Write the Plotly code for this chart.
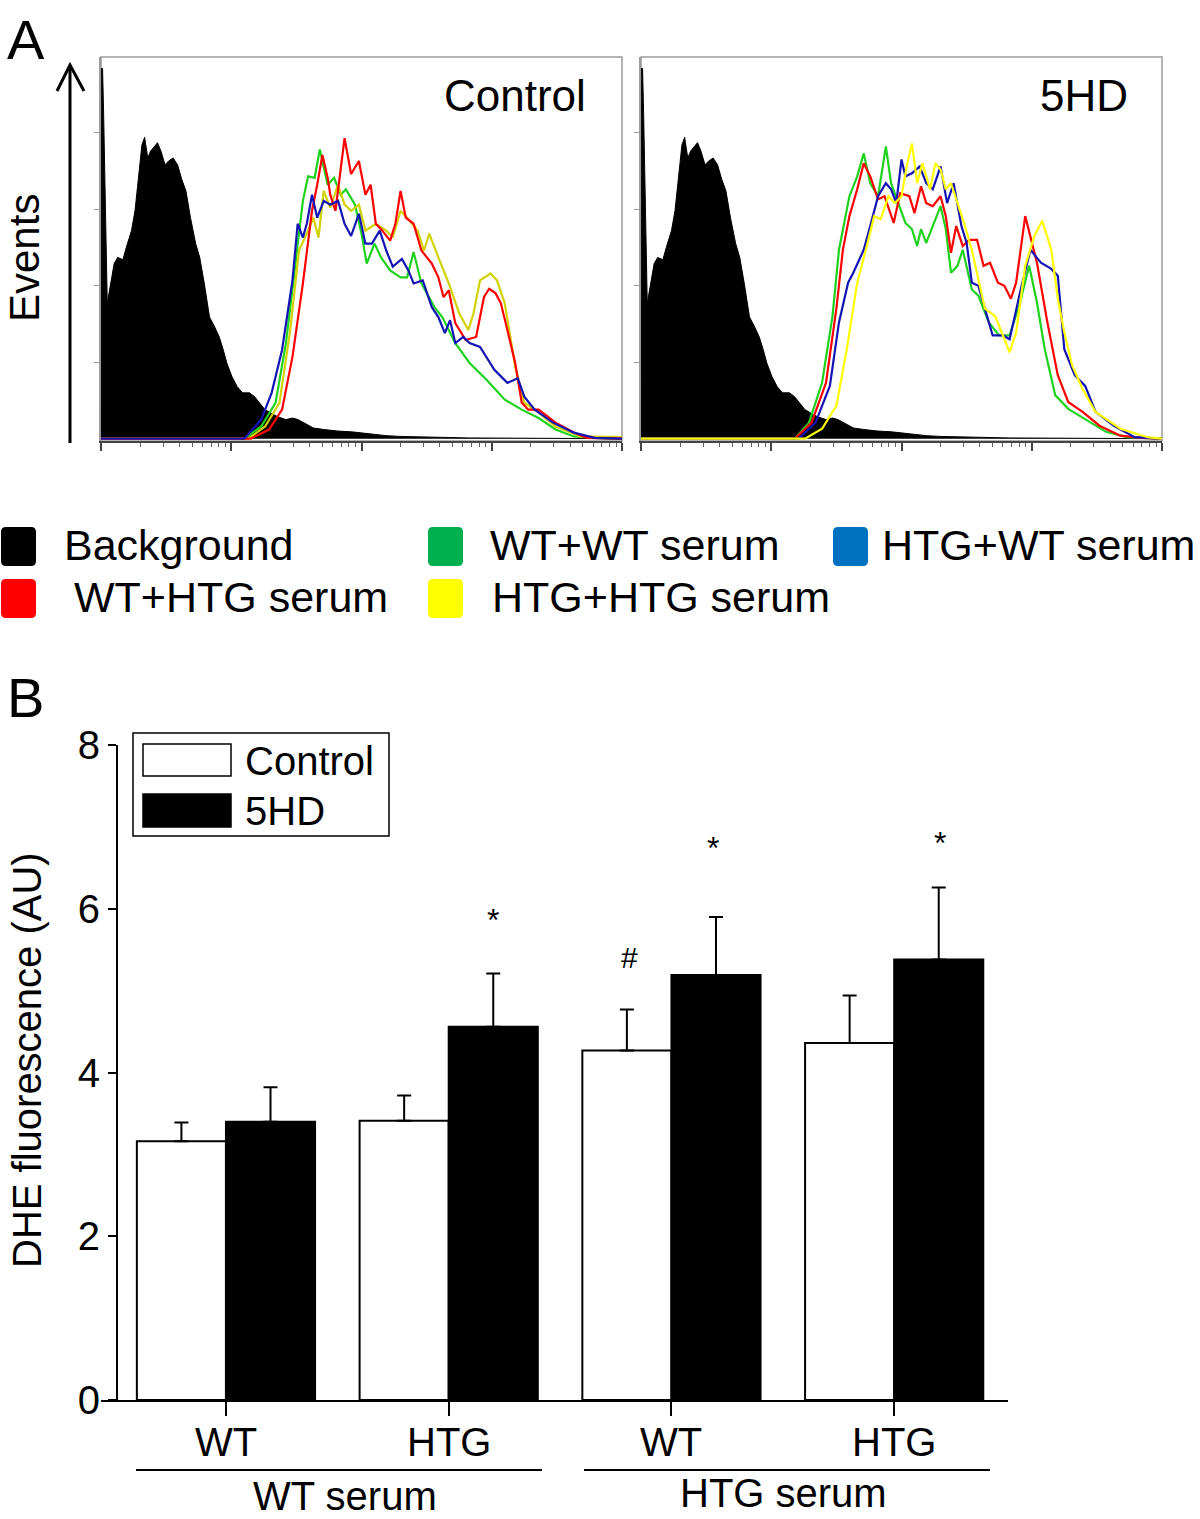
import numpy as np
import plotly.graph_objects as go

W, H = 1200, 1519
FONT = "Liberation Sans, Arial, Helvetica, sans-serif"

# ---------------- Panel A data (x in log decades, y in events units) ----------------
bg_x = [0, 0.003, 0.012, 0.02, 0.048, 0.101, 0.128, 0.168, 0.194, 0.234, 0.261, 0.287, 0.314, 0.335, 0.359,
        0.381, 0.413, 0.434, 0.460, 0.492, 0.519, 0.554, 0.588, 0.620, 0.652, 0.687, 0.727, 0.758, 0.793, 0.833,
        0.873, 0.908, 0.939, 0.966, 1.006, 1.046, 1.086, 1.139, 1.179, 1.219, 1.259, 1.299, 1.352, 1.419, 1.472,
        1.512, 1.552, 1.631, 1.711, 1.818, 1.924, 2.031, 2.190, 2.297, 2.563, 2.829, 4.0]
bg_y = [0, 4.84, 4.84, 4.26, 1.77, 2.29, 2.37, 2.34, 2.50, 2.72, 2.98, 3.41, 3.84, 3.94, 3.67,
        3.76, 3.82, 3.87, 3.76, 3.58, 3.63, 3.67, 3.58, 3.39, 3.24, 2.89, 2.55, 2.37, 2.03, 1.59,
        1.46, 1.33, 1.16, 0.99, 0.81, 0.68, 0.60, 0.60, 0.55, 0.47, 0.38, 0.34, 0.29, 0.25, 0.27,
        0.25, 0.21, 0.14, 0.12, 0.10, 0.09, 0.07, 0.04, 0.03, 0.02, 0.01, 0]

ctrl_green_x = [0, 1.10, 1.23, 1.34, 1.42, 1.50, 1.55, 1.59, 1.64, 1.68, 1.74, 1.79, 1.84, 1.88, 1.95, 2.00, 2.04,
                2.10, 2.15, 2.22, 2.30, 2.35, 2.40, 2.46, 2.56, 2.62, 2.72, 2.83, 2.96, 3.10, 3.23, 3.36, 3.49,
                3.63, 3.89, 4.0]
ctrl_green_y = [0, 0, 0.16, 0.47, 1.25, 2.37, 3.11, 3.43, 3.41, 3.78, 3.32, 3.41, 3.19, 3.26, 3.06, 2.68, 2.29,
                2.55, 2.37, 2.20, 2.11, 2.11, 2.44, 2.03, 1.72, 1.59, 1.25, 0.99, 0.77, 0.51, 0.38, 0.27, 0.12,
                0.03, 0, 0]

ctrl_red_x = [0, 1.15, 1.29, 1.39, 1.47, 1.55, 1.62, 1.66, 1.70, 1.74, 1.76, 1.80, 1.87, 1.92, 1.98, 2.03, 2.07,
              2.11, 2.16, 2.22, 2.26, 2.30, 2.34, 2.40, 2.46, 2.54, 2.59, 2.63, 2.67, 2.72, 2.80, 2.88, 2.94,
              2.98, 3.03, 3.07, 3.12, 3.18, 3.23, 3.28, 3.36, 3.49, 3.63, 3.73, 4.0]
ctrl_red_y = [0, 0, 0.12, 0.38, 1.07, 2.03, 2.98, 3.32, 3.71, 3.41, 3.19, 2.98, 3.93, 3.46, 3.63, 3.19, 3.32,
              2.81, 2.72, 2.59, 2.81, 3.24, 2.89, 2.81, 2.46, 2.29, 2.11, 1.85, 1.94, 1.51, 1.29, 1.33, 1.85,
              1.96, 1.90, 1.77, 1.42, 0.99, 0.47, 0.38, 0.38, 0.21, 0.08, 0.01, 0]

ctrl_yellow_x = [0, 1.13, 1.26, 1.37, 1.45, 1.52, 1.59, 1.63, 1.67, 1.71, 1.76, 1.82, 1.87, 1.92, 1.98, 2.03,
                 2.11, 2.19, 2.24, 2.30, 2.35, 2.43, 2.48, 2.52, 2.59, 2.67, 2.75, 2.82, 2.86, 2.91, 2.99, 3.04,
                 3.10, 3.18, 3.25, 3.36, 3.49, 3.68, 4.0]
ctrl_yellow_y = [0, 0, 0.16, 0.47, 1.38, 2.46, 2.72, 2.89, 2.63, 3.24, 3.02, 3.32, 3.06, 2.98, 3.06, 2.72,
                 2.81, 2.72, 2.63, 2.98, 2.89, 2.72, 2.46, 2.68, 2.37, 2.03, 1.64, 1.42, 1.64, 2.07, 2.16, 2.07,
                 1.77, 0.94, 0.47, 0.34, 0.16, 0.03, 0.02]

ctrl_blue_x = [0, 1.10, 1.23, 1.31, 1.39, 1.47, 1.51, 1.55, 1.58, 1.62, 1.66, 1.71, 1.76, 1.82, 1.87, 1.92, 1.98,
               2.03, 2.08, 2.14, 2.19, 2.24, 2.31, 2.36, 2.40, 2.47, 2.54, 2.59, 2.64, 2.68, 2.72, 2.78, 2.83,
               2.91, 3.02, 3.12, 3.20, 3.25, 3.33, 3.47, 3.63, 3.79, 4.0]
ctrl_blue_y = [0, 0, 0.25, 0.60, 1.16, 2.07, 2.81, 2.63, 2.81, 3.19, 2.89, 3.11, 3.06, 3.11, 2.81, 2.65, 2.94,
               2.55, 2.55, 2.72, 2.46, 2.25, 2.35, 2.20, 2.03, 2.07, 1.72, 1.59, 1.38, 1.55, 1.25, 1.33, 1.25,
               1.20, 0.90, 0.73, 0.79, 0.55, 0.38, 0.21, 0.08, 0.01, 0]

hd_green_x = [0, 1.18, 1.29, 1.39, 1.47, 1.52, 1.60, 1.66, 1.71, 1.76, 1.82, 1.88, 1.92, 1.98, 2.03, 2.08, 2.12,
              2.15, 2.19, 2.24, 2.30, 2.34, 2.38, 2.43, 2.47, 2.54, 2.59, 2.67, 2.75, 2.83, 2.91, 2.98, 3.04,
              3.10, 3.18, 3.28, 3.41, 3.57, 3.73, 4.0]
hd_green_y = [0, 0, 0.21, 0.73, 1.60, 2.47, 3.17, 3.43, 3.73, 3.34, 3.17, 3.82, 3.34, 3.04, 2.82, 2.74, 2.52,
              2.74, 2.56, 2.78, 3.04, 2.74, 2.17, 2.26, 2.47, 1.95, 1.87, 1.52, 1.35, 1.35, 1.78, 2.26, 1.78,
              1.17, 0.57, 0.39, 0.26, 0.09, 0.02, 0]

hd_red_x = [0, 1.18, 1.31, 1.42, 1.50, 1.55, 1.60, 1.66, 1.71, 1.76, 1.82, 1.87, 1.94, 1.99, 2.06, 2.10, 2.15,
            2.19, 2.24, 2.30, 2.34, 2.38, 2.42, 2.47, 2.52, 2.58, 2.63, 2.68, 2.74, 2.79, 2.84, 2.88, 2.95,
            2.99, 3.04, 3.12, 3.20, 3.28, 3.39, 3.52, 3.68, 3.84, 4.0]
hd_red_y = [0, 0, 0.21, 0.73, 1.70, 2.47, 2.91, 3.26, 3.60, 3.43, 3.13, 3.17, 2.82, 3.21, 3.17, 2.95, 3.30,
            3.08, 3.04, 3.17, 2.91, 2.43, 2.78, 2.52, 2.60, 2.60, 2.26, 2.30, 2.04, 2.00, 1.83, 2.04, 2.91,
            2.65, 2.30, 1.52, 0.83, 0.48, 0.35, 0.17, 0.04, 0.01, 0]

hd_blue_x = [0, 1.21, 1.34, 1.45, 1.52, 1.59, 1.63, 1.71, 1.76, 1.82, 1.88, 1.92, 1.96, 2.00, 2.03, 2.08, 2.14,
             2.19, 2.24, 2.30, 2.35, 2.40, 2.46, 2.50, 2.54, 2.59, 2.64, 2.70, 2.78, 2.83, 2.91, 2.99, 3.07,
             3.15, 3.20, 3.25, 3.33, 3.41, 3.49, 3.63, 3.79, 4.0]
hd_blue_y = [0, 0, 0.21, 0.69, 1.52, 2.04, 2.17, 2.47, 2.78, 3.17, 3.34, 3.26, 3.08, 3.65, 3.43, 3.47, 3.56,
             3.34, 3.26, 3.56, 3.08, 3.34, 2.78, 2.56, 2.04, 2.00, 1.70, 1.35, 1.35, 1.30, 1.91, 2.47, 2.30,
             2.22, 2.13, 1.17, 0.83, 0.69, 0.35, 0.17, 0.02, 0]

hd_yellow_x = [0, 1.26, 1.39, 1.50, 1.58, 1.66, 1.74, 1.79, 1.84, 1.90, 1.95, 2.00, 2.04, 2.08, 2.12, 2.16, 2.22,
               2.26, 2.30, 2.34, 2.38, 2.43, 2.48, 2.54, 2.59, 2.64, 2.72, 2.78, 2.83, 2.88, 2.95, 3.02, 3.08,
               3.15, 3.20, 3.25, 3.31, 3.39, 3.49, 3.68, 3.89, 4.0]
hd_yellow_y = [0, 0, 0.13, 0.43, 1.17, 2.04, 2.56, 2.91, 2.87, 3.17, 3.08, 3.17, 3.56, 3.86, 3.34, 3.60, 3.26,
               3.60, 3.52, 3.26, 3.34, 3.08, 2.82, 2.47, 2.08, 1.70, 1.60, 1.35, 1.13, 1.39, 2.26, 2.65, 2.85,
               2.47, 1.83, 1.39, 0.96, 0.65, 0.35, 0.13, 0.02, 0]

legend_a_labels = ["Background", "WT+WT serum", "HTG+WT serum", "WT+HTG serum", "HTG+HTG serum"]

# ---------------- Panel B data ----------------
groups = [0, 1, 2, 3]
genotype_labels = ["WT", "HTG", "WT", "HTG"]
serum_labels = ["WT serum", "HTG serum"]
control_vals = [3.16, 3.41, 4.27, 4.36]
control_err = [0.23, 0.31, 0.50, 0.58]
hd_vals = [3.40, 4.56, 5.19, 5.38]
hd_err = [0.42, 0.65, 0.71, 0.88]
yticks_b = [0, 2, 4, 6, 8]


def px(x):
    return x / W


def py(y):
    return 1 - y / H


fig = go.Figure()

panels = [("x", "y", [(ctrl_green_x, ctrl_green_y, "#1ed21e"), (ctrl_yellow_x, ctrl_yellow_y, "#d2d200"),
                      (ctrl_red_x, ctrl_red_y, "#ff0000"), (ctrl_blue_x, ctrl_blue_y, "#1414b4")]),
          ("x2", "y2", [(hd_green_x, hd_green_y, "#1ed21e"), (hd_red_x, hd_red_y, "#ff0000"),
                        (hd_blue_x, hd_blue_y, "#1414b4"), (hd_yellow_x, hd_yellow_y, "#ffff00")])]
for xa, ya, curves in panels:
    fig.add_trace(go.Scatter(x=bg_x, y=bg_y, mode="lines", fill="tozeroy", fillcolor="black",
                             line=dict(color="black", width=1), xaxis=xa, yaxis=ya, showlegend=False,
                             hoverinfo="skip"))
    for cx, cy, col in curves:
        fig.add_trace(go.Scatter(x=cx, y=cy, mode="lines", line=dict(color=col, width=2.2),
                                 xaxis=xa, yaxis=ya, showlegend=False))

fig.add_trace(go.Bar(x=groups, y=control_vals, width=0.4, offset=-0.4,
                     marker=dict(color="white", line=dict(color="black", width=2)),
                     error_y=dict(type="data", array=control_err, arrayminus=[0] * 4, symmetric=False,
                                  color="black", thickness=2, width=7),
                     xaxis="x3", yaxis="y3", showlegend=False))
fig.add_trace(go.Bar(x=groups, y=hd_vals, width=0.4, offset=0,
                     marker=dict(color="black", line=dict(color="black", width=2)),
                     error_y=dict(type="data", array=hd_err, arrayminus=[0] * 4, symmetric=False,
                                  color="black", thickness=2, width=7),
                     xaxis="x3", yaxis="y3", showlegend=False))

minor_vals = [d + np.log10(k) for d in range(4) for k in range(2, 10)]
hist_y_dom = [py(441), py(57)]
common_hx = dict(range=[0, 4], showgrid=False, zeroline=False, showline=True, linecolor="#444", linewidth=1.5,
                 tickvals=[0, 1, 2, 3, 4], ticks="outside", ticklen=8, tickcolor="#444", tickwidth=1.5,
                 showticklabels=False, automargin=False,
                 minor=dict(tickvals=minor_vals, ticks="outside", ticklen=4, tickcolor="#666", tickwidth=1))
common_hy = dict(range=[-0.03, 4.99], domain=hist_y_dom, showgrid=False, zeroline=False, showline=True,
                 linecolor="#9a9a9a", linewidth=1.5, tickvals=[1, 2, 3, 4], ticks="outside", ticklen=5,
                 tickcolor="#9a9a9a", showticklabels=False, automargin=False)

fig.update_layout(
    template="none",
    width=W, height=H, margin=dict(l=0, r=0, t=0, b=0, pad=0), autosize=False,
    paper_bgcolor="white", plot_bgcolor="white",
    font=dict(family=FONT, color="black"),
    barmode="overlay", showlegend=False,
    xaxis=dict(domain=[px(101), px(622)], anchor="y", **common_hx),
    yaxis=dict(anchor="x", **common_hy),
    xaxis2=dict(domain=[px(641), px(1162)], anchor="y2", **common_hx),
    yaxis2=dict(anchor="x2", **common_hy),
    xaxis3=dict(domain=[px(101), px(1008)], anchor="y3", range=[-0.561, 3.511], showgrid=False,
                zeroline=False, showline=True, linecolor="black", linewidth=2, automargin=False,
                tickvals=groups, ticks="outside", ticklen=14, tickwidth=2,
                tickcolor="black", showticklabels=False),
    yaxis3=dict(domain=[py(1400), py(745)], anchor="free", position=px(117), range=[0, 8],
                showgrid=False, zeroline=False, showline=True, linecolor="black", linewidth=2,
                automargin=False,
                tickvals=yticks_b, ticks="outside", ticklen=8, tickwidth=2, tickcolor="black",
                tickfont=dict(size=40, family=FONT)),
)

shapes = []
for x0, x1 in [(101, 622), (641, 1162)]:
    shapes.append(dict(type="rect", xref="paper", yref="paper", x0=px(x0), x1=px(x1), y0=py(441), y1=py(57),
                       line=dict(color="#9a9a9a", width=1.5), layer="below"))
shapes.append(dict(type="line", xref="paper", yref="paper", x0=px(70), x1=px(70), y0=py(443), y1=py(66),
                   line=dict(color="black", width=3)))
shapes.append(dict(type="path", xref="paper", yref="paper",
                   path=f"M{px(57)},{py(91)} L{px(70)},{py(65)} L{px(84)},{py(91)}",
                   line=dict(color="black", width=3)))


def rrect(x0, y0, x1, y1, r=5):
    return (f"M{px(x0 + r)},{py(y0)} L{px(x1 - r)},{py(y0)} Q{px(x1)},{py(y0)} {px(x1)},{py(y0 + r)} "
            f"L{px(x1)},{py(y1 - r)} Q{px(x1)},{py(y1)} {px(x1 - r)},{py(y1)} "
            f"L{px(x0 + r)},{py(y1)} Q{px(x0)},{py(y1)} {px(x0)},{py(y1 - r)} "
            f"L{px(x0)},{py(y0 + r)} Q{px(x0)},{py(y0)} {px(x0 + r)},{py(y0)} Z")


legend_a_colors = ["#000000", "#00b050", "#0070c0", "#ff0000", "#ffff00"]
legend_a_box = [(1, 527), (428, 527), (833, 527), (1, 579), (428, 579)]
legend_a_text = [(62, 545), (488, 545), (880, 545), (72, 597), (490, 597)]
for (bx, by), col in zip(legend_a_box, legend_a_colors):
    shapes.append(dict(type="path", xref="paper", yref="paper", path=rrect(bx, by, bx + 35, by + 39),
                       fillcolor=col, line=dict(color=col, width=0)))

shapes.append(dict(type="rect", xref="paper", yref="paper", x0=px(133), x1=px(389), y0=py(836), y1=py(733),
                   line=dict(color="black", width=1.5), fillcolor="white"))
shapes.append(dict(type="rect", xref="paper", yref="paper", x0=px(143), x1=px(231), y0=py(776), y1=py(744),
                   line=dict(color="black", width=1.5), fillcolor="white"))
shapes.append(dict(type="rect", xref="paper", yref="paper", x0=px(143), x1=px(231), y0=py(827), y1=py(794),
                   line=dict(color="black", width=1.5), fillcolor="black"))
shapes.append(dict(type="line", xref="paper", yref="paper", x0=px(136), x1=px(542), y0=py(1470), y1=py(1470),
                   line=dict(color="black", width=2)))
shapes.append(dict(type="line", xref="paper", yref="paper", x0=px(584), x1=px(990), y0=py(1470), y1=py(1470),
                   line=dict(color="black", width=2)))

ann = []


def text(t, x, y, size, xanchor="center", yanchor="middle", angle=0, xref="paper"):
    ann.append(dict(text=t, x=(px(x) if xref == "paper" else x), y=py(y), xref=xref, yref="paper",
                    showarrow=False, xanchor=xanchor, yanchor=yanchor, textangle=angle,
                    font=dict(size=size, family=FONT, color="black")))


text("A", 26, 40, 56)
text("B", 25, 697, 56)
text("Events", 25, 258, 42, angle=-90)
text("Control", 588, 96, 44, xanchor="right")
text("5HD", 1130, 96, 44, xanchor="right")
for lab, (tx, ty) in zip(legend_a_labels, legend_a_text):
    text(lab, tx, ty, 43, xanchor="left")
text("Control", 243, 761, 40, xanchor="left")
text("5HD", 243, 811, 40, xanchor="left")
text("DHE fluorescence (AU)", 27, 1060, 40, angle=-90)
for g, lab in zip(groups, genotype_labels):
    text(lab, g, 1442, 40, xref="x3")
text(serum_labels[0], 345, 1496, 40)
text(serum_labels[1], 783, 1493, 40)
text("*", 493, 920, 32)
text("#", 629, 957, 30)
text("*", 713, 848, 32)
text("*", 940, 843, 32)

fig.update_layout(shapes=shapes, annotations=ann)
fig.write_html("out.html", config={"displayModeBar": False},
               post_script="document.body.style.margin='0';document.body.style.padding='0';")
